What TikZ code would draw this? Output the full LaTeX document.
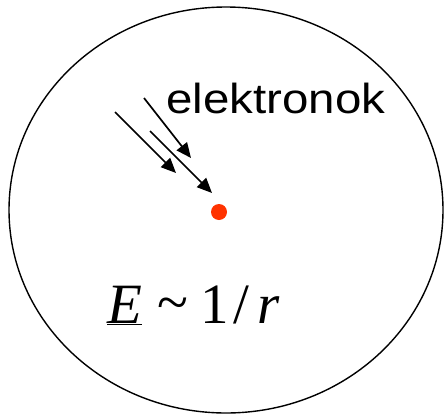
\documentclass[tikz,border=0pt]{standalone}
\usepackage{fontspec}
\setmainfont{Liberation Serif}
\setsansfont{Liberation Sans}
\usetikzlibrary{arrows.meta,positioning}
\definecolor{dotred}{RGB}{255,51,0}
\begin{document}
\begin{tikzpicture}[x=1pt,y=-1pt]
  \useasboundingbox (0,0) rectangle (444,415);
  \tikzset{
    elec/.style={line width=1.7pt,-{Triangle[length=15pt,width=13pt]}},
    rim/.style={line width=1.4pt}
  }
  \draw[rim] (226,210) ellipse [x radius=217, y radius=203];
  \fill[dotred] (219,212) circle (8);
  \node[font=\sffamily\fontsize{42}{48}\selectfont,xscale=1.13,anchor=base west,inner sep=0pt] (lbl) at (166,113) {elektronok};
  \foreach \sx/\sy/\ex/\ey [count=\i] in {115/112/176/173, 144/98/191/158, 150/131/212/193} {
    \coordinate (s\i) at (\sx,\sy);
    \coordinate (e\i) at (\ex,\ey);
    \draw[elec] (s\i) -- (e\i);
  }
  \node[font=\fontsize{57}{62}\selectfont,anchor=base west,inner sep=0pt] (law) at (107,323)
    {\underline{\itshape E}\hspace{0.28em}\raisebox{0.03em}{\char`\~}\hspace{0.2em}1\hspace{0.08em}/\hspace{0.15em}{\itshape r}};
\end{tikzpicture}
\end{document}
